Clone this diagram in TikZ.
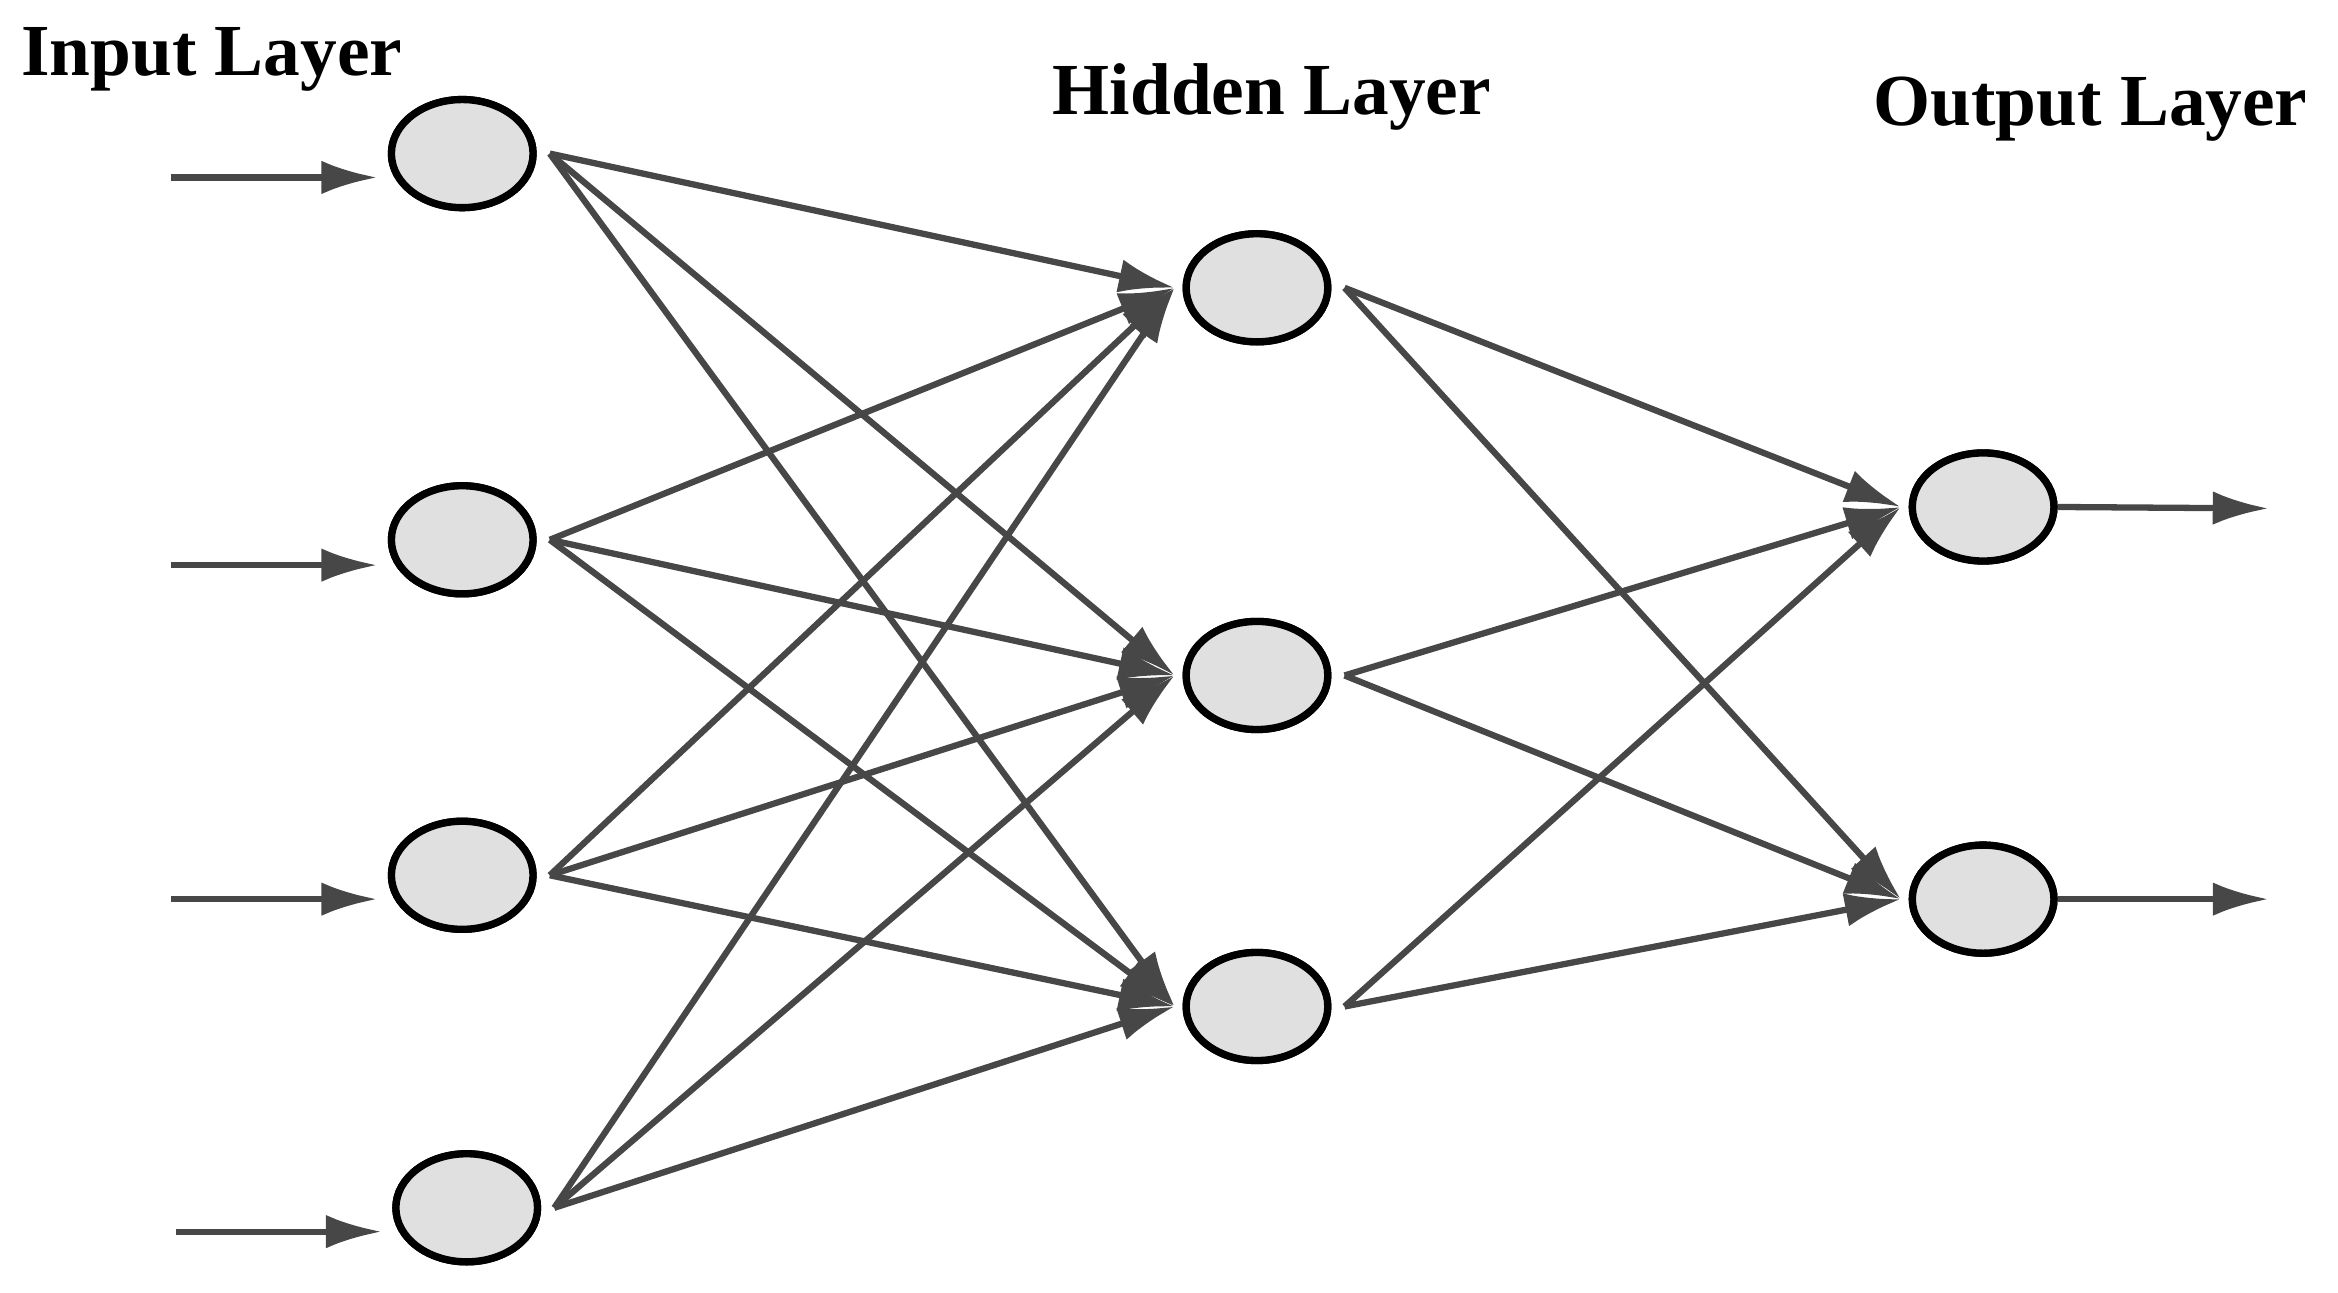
\documentclass[tikz,border=0pt]{standalone}
\usepackage{fontspec}
\setmainfont{Liberation Serif}
\usetikzlibrary{arrows.meta,shapes.geometric}
\begin{document}
\begin{tikzpicture}[x=0.02cm,y=-0.02cm,
  neuron/.style={ellipse,draw=black,line width=2.8pt,fill=black!12,minimum width=1.9cm,minimum height=1.45cm,inner sep=0pt},
  edge/.style={draw=black!72,line width=2.4pt,-{Latex[length=0.75cm,width=0.45cm]},shorten >=2pt},
  lab/.style={font=\fontsize{28}{32}\selectfont\bfseries,text=black}]
\useasboundingbox (0,0) rectangle (1568,867);
\node[neuron] (i1) at (310,103) {};
\node[neuron] (i2) at (310,362) {};
\node[neuron] (i3) at (310,587) {};
\node[neuron] (i4) at (313,810) {};
\node[neuron] (h1) at (843,193) {};
\node[neuron] (h2) at (843,453) {};
\node[neuron] (h3) at (843,675) {};
\node[neuron] (o1) at (1330,340) {};
\node[neuron] (o2) at (1330,603) {};
\coordinate (a1) at (115,119);
\coordinate (a2) at (115,379);
\coordinate (a3) at (115,603);
\coordinate (a4) at (118,826);
\coordinate (b1) at (1525,341);
\coordinate (b2) at (1525,603);
\foreach \a/\n in {a1/i1,a2/i2,a3/i3,a4/i4} \draw[edge,shorten >=4pt] (\a) -- (\a -| \n.west);
\draw[edge] (o1.east) -- (b1);
\draw[edge] (o2.east) -- (b2);
\foreach \i in {i1,i2,i3,i4} \foreach \h in {h1,h2,h3} \draw[edge,shorten >=0pt] ([xshift=5pt]\i.east) -- ([xshift=-3pt]\h.west);
\foreach \h in {h1,h2,h3} \foreach \o in {o1,o2} \draw[edge,shorten >=0pt] ([xshift=5pt]\h.east) -- ([xshift=-3pt]\o.west);
\foreach \n in {i1,i2,i3,i4,h1,h2,h3,o1,o2} \node[neuron] at (\n) {};
\node[lab,anchor=west] (t1) at (8,40) {Input Layer};
\node[lab] (t2) at (853,65) {Hidden Layer};
\node[lab] (t3) at (1402,73) {Output Layer};
\end{tikzpicture}
\end{document}
